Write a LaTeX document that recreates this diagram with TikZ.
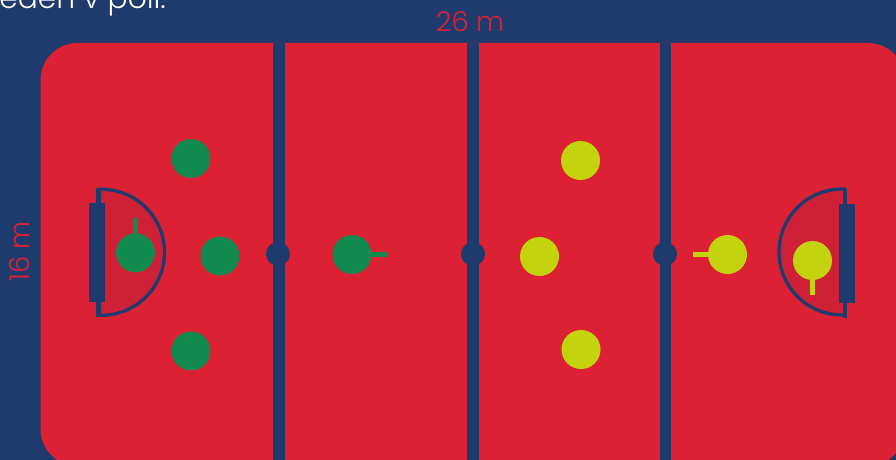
\documentclass[tikz,border=0pt]{standalone}
\usepackage{fontspec}
\setmainfont{Poppins Light}
\definecolor{navy}{HTML}{1F3A6D}
\definecolor{fieldred}{HTML}{DC2135}
\definecolor{areared}{HTML}{CE2036}
\definecolor{teamgreen}{HTML}{118A4E}
\definecolor{teamyellow}{HTML}{C3D40E}
\tikzset{
  px/.style={x=0.75pt,y=-0.75pt},
  playergreen/.style={circle,fill=teamgreen,draw=none,minimum size=29.25pt,inner sep=0pt},
  playeryellow/.style={circle,fill=teamyellow,draw=none,minimum size=29.25pt,inner sep=0pt},
  stickgreen/.style={draw=teamgreen,line width=3.6pt},
  stickyellow/.style={draw=teamyellow,line width=3.6pt},
  spot/.style={circle,fill=navy,draw=none,minimum size=18pt,inner sep=0pt},
  arealine/.style={draw=navy,line width=2.5pt},
  dim/.style={text=fieldred,font=\fontsize{20.5}{24}\selectfont,inner sep=0pt},
}
\begin{document}
\begin{tikzpicture}[px]
\useasboundingbox (0,0) rectangle (896,460);
\clip (0,0) rectangle (896,460);
\fill[navy] (0,0) rectangle (896,460);
\fill[fieldred,rounded corners=27.75pt] (40.5,43) rectangle (905,466);
\node[anchor=base west,text=white,font=\fontsize{22.3}{24}\selectfont,inner sep=0pt] (caption) at (-1,8.5) {eden v poli.};
\node[dim] (w) at (470,22) {26 m};
\node[dim,rotate=90] (h) at (20,251.5) {16 m};
% halfway lines
\fill[navy] (273,43) rectangle (285,460);
\fill[navy] (467,43) rectangle (479,460);
\fill[navy] (660,43) rectangle (671,460);
\node[spot] (s1) at (278,254) {};
\node[spot] (s2) at (473,254) {};
\node[spot] (s3) at (665,254) {};
% left goal area
\fill[areared] (98,189.3) -- (101.5,189.3) arc[start angle=-90,end angle=90,radius=63] -- (98,315.3) -- cycle;
\draw[arealine] (98.5,189.3) -- (101.5,189.3) arc[start angle=-90,end angle=90,radius=63] -- (98.5,315.3);
\fill[navy] (96,188) rectangle (101,317);
\fill[navy] (89,203) rectangle (105,302);
% right goal area
\fill[areared] (845,189) -- (842,189) arc[start angle=-90,end angle=-270,radius=63] -- (845,315) -- cycle;
\draw[arealine] (845,189) -- (842,189) arc[start angle=-90,end angle=-270,radius=63] -- (845,315);
\fill[navy] (843,188) rectangle (847,318);
\fill[navy] (839,203.5) rectangle (855,302.7);
% green team
\coordinate (gs1) at (135.5,217.7);
\coordinate (gs2) at (388,254.5);
\draw[stickgreen] (135.5,240) -- (gs1);
\draw[stickgreen] (352,254.5) -- (gs2);
\node[playergreen] (g1) at (135.5,252.8) {};
\node[playergreen] (g2) at (191,158.5) {};
\node[playergreen] (g3) at (220,256) {};
\node[playergreen] (g4) at (191,351) {};
\node[playergreen] (g5) at (352,254.5) {};
% yellow team
\coordinate (ys1) at (693,254.5);
\coordinate (ys2) at (812.5,295.3);
\draw[stickyellow] (727.5,254.5) -- (ys1);
\draw[stickyellow] (812.5,260.5) -- (ys2);
\node[playeryellow] (y1) at (580.5,160.5) {};
\node[playeryellow] (y2) at (539.5,256.5) {};
\node[playeryellow] (y3) at (581,349.5) {};
\node[playeryellow] (y4) at (727.5,254.5) {};
\node[playeryellow] (y5) at (812.5,260.5) {};
\end{tikzpicture}
\end{document}
